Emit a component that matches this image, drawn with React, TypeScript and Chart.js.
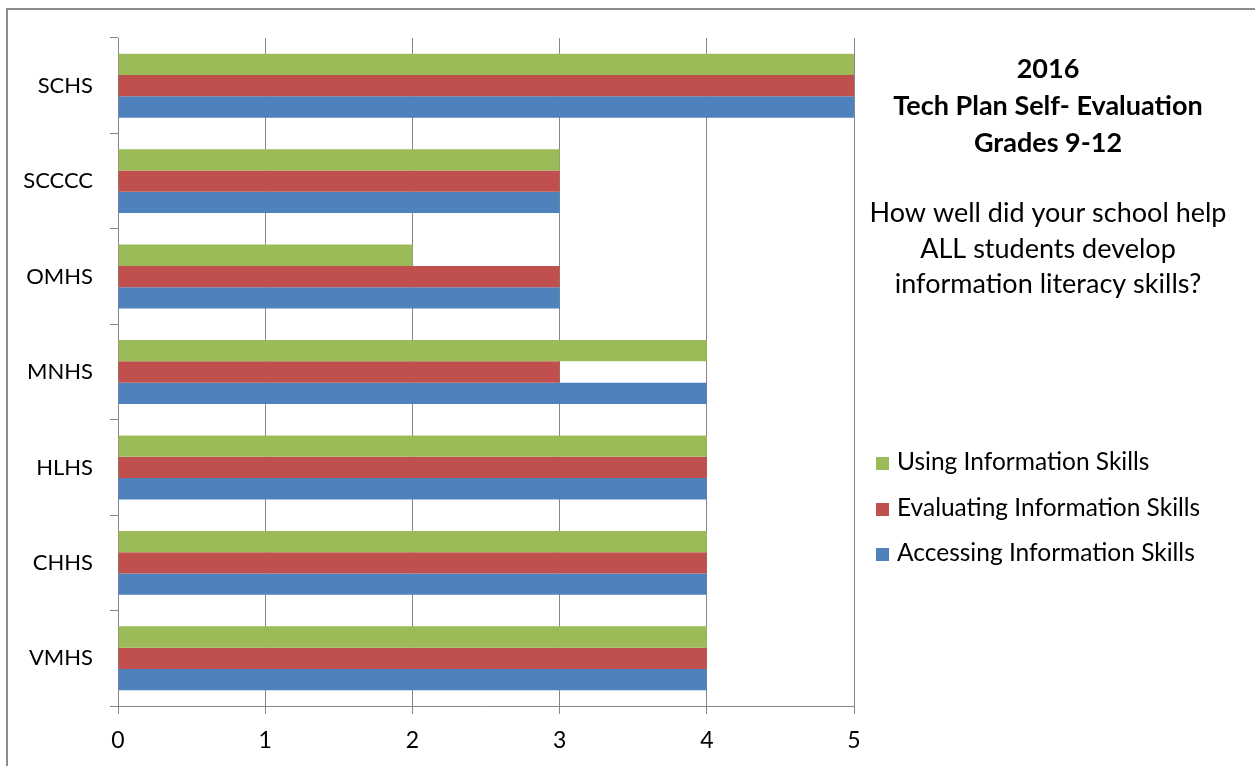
import React, { useEffect, useRef } from "react";
import { Chart, registerables } from "chart.js";

Chart.register(...registerables);

const schools = ["SCHS", "SCCCC", "OMHS", "MNHS", "HLHS", "CHHS", "VMHS"];
const usingSkills = [5, 3, 2, 4, 4, 4, 4];
const evaluatingSkills = [5, 3, 3, 3, 4, 4, 4];
const accessingSkills = [5, 3, 3, 4, 4, 4, 4];
const seriesNames = ["Using Information Skills", "Evaluating Information Skills", "Accessing Information Skills"];
const seriesColors = ["#9BBB59", "#C0504D", "#4F81BD"];
const titleLines = ["2016", "Tech Plan Self- Evaluation", "Grades 9-12"];
const questionLines = ["How well did your school help", "ALL students develop", "information literacy skills?"];

const FONT = "Lato, 'Noto Sans', sans-serif";
const GRID = "#878787";

const sidePlugin = {
  id: "sidePanel",
  afterDraw(chart: any) {
    const ctx = chart.ctx as CanvasRenderingContext2D;
    ctx.save();
    // outer border
    ctx.strokeStyle = "#8c8c8c";
    ctx.lineWidth = 2;
    ctx.strokeRect(7, 9, 1400, 900);
    // title
    ctx.fillStyle = "#000";
    ctx.textAlign = "center";
    ctx.textBaseline = "alphabetic";
    const cx = 1048;
    ctx.font = `bold 27px ${FONT}`;
    const tY = [78, 115, 152];
    titleLines.forEach((t, i) => ctx.fillText(t, cx, tY[i]));
    ctx.font = `27px ${FONT}`;
    const qY = [222, 258, 293];
    questionLines.forEach((t, i) => ctx.fillText(t, cx, qY[i]));
    // legend
    ctx.textAlign = "left";
    ctx.font = `24.5px ${FONT}`;
    const lY = [470, 516, 561];
    chart.data.datasets.forEach((ds: any, i: number) => {
      ctx.fillStyle = ds.backgroundColor;
      ctx.fillRect(876, lY[i] - 13, 13, 13);
      ctx.fillStyle = "#000";
      ctx.fillText(ds.label, 897, lY[i]);
    });
    ctx.restore();
  },
};

export default function App() {
  const ref = useRef<HTMLCanvasElement>(null);
  useEffect(() => {
    if (!ref.current) return;
    const chart = new Chart(ref.current, {
      type: "bar",
      data: {
        labels: schools,
        datasets: [
          { label: seriesNames[0], data: usingSkills, backgroundColor: seriesColors[0] },
          { label: seriesNames[1], data: evaluatingSkills, backgroundColor: seriesColors[1] },
          { label: seriesNames[2], data: accessingSkills, backgroundColor: seriesColors[2] },
        ],
      },
      options: {
        indexAxis: "y",
        responsive: false,
        animation: false,
        layout: { padding: { left: 0, top: 38, right: 401, bottom: 0 } },
        datasets: { bar: { categoryPercentage: 0.67, barPercentage: 1 } },
        plugins: { legend: { display: false }, tooltip: { enabled: false }, title: { display: false } },
        scales: {
          x: {
            min: 0,
            max: 5,
            ticks: { stepSize: 1, color: "#000", font: { family: FONT, size: 23 }, padding: 13 },
            grid: { color: GRID, tickLength: 8, lineWidth: 1 },
            border: { color: GRID, width: 1 },
            afterFit: (s: any) => { s.height = 60; },
          },
          y: {
            ticks: { color: "#000", font: { family: FONT, size: 22 }, padding: 17 },
            grid: { color: GRID, drawOnChartArea: false, tickLength: 8, offset: true },
            border: { color: GRID, width: 1 },
            afterFit: (s: any) => { s.width = 118; },
          },
        },
      },
      plugins: [sidePlugin],
    });
    return () => chart.destroy();
  }, []);
  return (
    <div style={{ position: "absolute", left: 0, top: 0, width: 1255, height: 766, background: "#fff" }}>
      <canvas ref={ref} width={1255} height={766} style={{ display: "block" }} />
    </div>
  );
}
